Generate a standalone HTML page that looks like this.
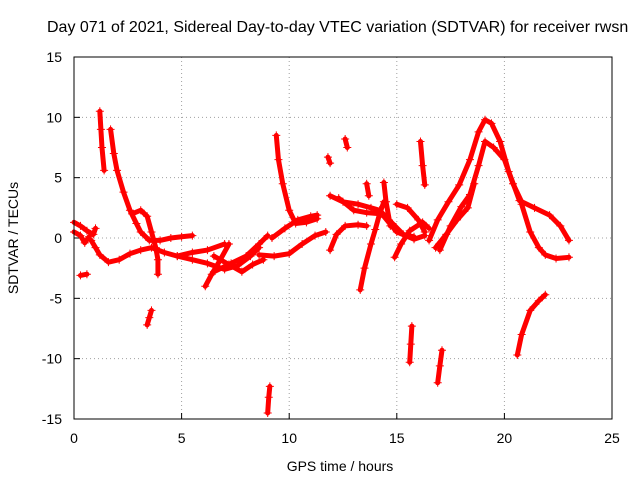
<!DOCTYPE html>
<html><head><meta charset="utf-8"><style>
body{margin:0;background:#fff}
svg{display:block;font-family:"Liberation Sans",sans-serif}
</style></head><body>
<svg id="chart" width="640" height="480" viewBox="0 0 640 480">
<text x="47" y="32" font-size="16" fill="#000">Day 071 of 2021, Sidereal Day-to-day VTEC variation (SDTVAR) for receiver rwsn</text>
<g id="grid"></g>
<g id="ticks"></g>
<g id="marks"></g>
<rect x="74" y="57" width="538" height="362" fill="none" stroke="#000" stroke-width="1"/>
<text x="340" y="471" font-size="14" text-anchor="middle">GPS time / hours</text>
<text transform="translate(18,238) rotate(-90)" font-size="14" text-anchor="middle">SDTVAR / TECUs</text>
</svg>
<script>
const xTicks=[0,5,10,15,20,25];
const yTicks=[-15,-10,-5,0,5,10,15];
const tracks=[
[[0,1.3],[0.3,1],[0.6,0.6],[0.9,0.3],[1.0,0.8]],
[[0,0.5],[0.3,0.2],[0.5,-0.4],[0.7,0.1]],
[[1.2,10.5],[1.25,9],[1.3,7.5],[1.4,5.6]],
[[1.7,9],[1.85,7],[2.0,5.6],[2.3,3.8],[2.6,2.3],[2.9,1.2],[3.1,0.5],[3.5,-0.2],[4,-0.2],[4.5,0],[5,0.1],[5.5,0.2]],
[[0.8,-0.2],[1.0,-0.8],[1.2,-1.4],[1.6,-2],[2.1,-1.8],[2.6,-1.3],[3.1,-1],[3.6,-0.8],[4.2,-1.2],[4.8,-1.5],[5.5,-1.2],[6.2,-1],[7,-0.5]],
[[2.7,2],[3.1,2.3],[3.4,1.8],[3.6,0.5],[3.8,-0.8],[3.9,-1.8],[3.9,-3]],
[[0.3,-3.1],[0.6,-3]],
[[3.6,-6],[3.5,-6.6],[3.4,-7.2]],
[[6.1,-4],[6.4,-3],[6.8,-1.8],[7.2,-0.5]],
[[4.8,-1.5],[5.5,-1.8],[6.2,-2.1],[7,-2.6],[7.6,-2.3],[8.2,-1.5],[8.6,-0.8]],
[[6.5,-1.5],[7.2,-2.2],[7.8,-2.8],[8.3,-2.2],[8.8,-1.8]],
[[6.5,-2.8],[7.3,-2.1],[8,-1.5],[8.6,-0.5],[9,0.2]],
[[9.1,-12.3],[9.05,-13.2],[9,-14.5]],
[[9.4,8.5],[9.5,6.5],[9.7,4.5],[10,2.3],[10.3,1.2],[10.8,1.3],[11.3,1.6]],
[[8.6,-1.4],[9.3,-1.5],[10,-1.3],[10.6,-0.5],[11.2,0.2],[11.7,0.5]],
[[9.2,0],[9.8,0.8],[10.4,1.5],[11,1.8],[11.3,1.9]],
[[11.8,6.7],[11.9,6.2]],
[[12.6,8.2],[12.7,7.5]],
[[11.9,-1],[12.2,0.3],[12.6,1],[13.2,1.1],[13.6,1]],
[[13.3,-4.3],[13.5,-2.5],[13.8,-0.5],[14,0.7],[14.2,2],[14.4,3]],
[[11.9,3.5],[12.5,3],[13.2,2.8],[13.8,2.5],[14.2,2.3],[14.8,1.2],[15.3,0.3],[15.8,0.1]],
[[12.3,3.3],[13,2.3],[13.6,2.1],[14.3,2],[15,0.5],[15.8,-0.1],[16.3,0.2]],
[[14.4,4.6],[14.5,3],[14.7,1]],
[[13.6,4.5],[13.7,3.5]],
[[14.9,-1.6],[15.2,-0.5],[15.6,0.6],[16.2,1.3],[16.5,0.8]],
[[15,2.8],[15.5,2.5],[16,1.5],[16.3,0.5]],
[[15.7,-7.3],[15.65,-8.8],[15.6,-10.3]],
[[16.1,8],[16.2,6],[16.3,4.4]],
[[17.1,-9.3],[17,-10.6],[16.9,-12]],
[[16.5,-0.2],[16.9,1.5],[17.4,3],[17.9,4.4],[18.4,6.5],[18.8,8.8],[19.1,9.8],[19.4,9.5],[19.8,8],[20.2,5.5],[20.7,3.1],[21.4,2.5],[22.1,1.9],[22.6,1],[23,-0.2]],
[[17,-1],[17.5,1],[18,2.6],[18.4,3.6],[18.8,6],[19.1,8],[19.5,7.5],[20,6.5],[20.4,4.5],[20.8,3]],
[[16.8,-0.8],[17.3,0.3],[17.8,1.5],[18.3,2.5],[18.6,4.5]],
[[20.8,2.8],[21.2,0.5],[21.6,-0.8],[21.9,-1.4],[22.4,-1.7],[23,-1.6]],
[[20.6,-9.7],[20.8,-8],[21.2,-6],[21.6,-5.2],[21.9,-4.7]]
];
const X=h=>74+h*538/25, Y=v=>238-v*362/30;
const ns="http://www.w3.org/2000/svg";
const grid=document.getElementById('grid'), ticks=document.getElementById('ticks'), marks=document.getElementById('marks');
function mk(tag,at,parent){const e=document.createElementNS(ns,tag);for(const k in at)e.setAttribute(k,at[k]);parent.appendChild(e);return e;}
xTicks.forEach(t=>{
  if(t>0&&t<25){const g=mk('line',{x1:X(t),x2:X(t),y1:57,y2:419,stroke:'#a0a0a0','stroke-dasharray':'1,3'},grid);
  
  }
  const tk=mk('line',{x1:X(t),x2:X(t),y1:419,y2:413,stroke:'#000'},ticks);
  
  
  const l=mk('text',{x:X(t),y:443,'font-size':14,'text-anchor':'middle'},ticks);l.textContent=t;
  
  
});
yTicks.forEach(t=>{
  if(t>-15&&t<15){const g=mk('line',{x1:74,x2:612,y1:Y(t),y2:Y(t),stroke:'#a0a0a0','stroke-dasharray':'1,3'},grid);
  
  }
  const tk=mk('line',{x1:74,x2:80,y1:Y(t),y2:Y(t),stroke:'#000'},ticks);
  
  
  const l=mk('text',{x:62,y:Y(t)+5,'font-size':14,'text-anchor':'end'},ticks);l.textContent=t;
  
  
});
tracks.forEach((tr,i)=>{
  const p=mk('polyline',{points:tr.map(d=>X(d[0])+','+Y(d[1])).join(' '),fill:'none',stroke:'#f00','stroke-width':5,'stroke-linejoin':'round','stroke-linecap':'round'},marks);
  
  
  tr.forEach(d=>{
    const x=X(d[0]),y=Y(d[1]);
    const m=mk('path',{d:`M${x-4},${y}h8M${x},${y-4}v8`,stroke:'#f00','stroke-width':1},marks);
    
    
  });
});
</script>
</body></html>
